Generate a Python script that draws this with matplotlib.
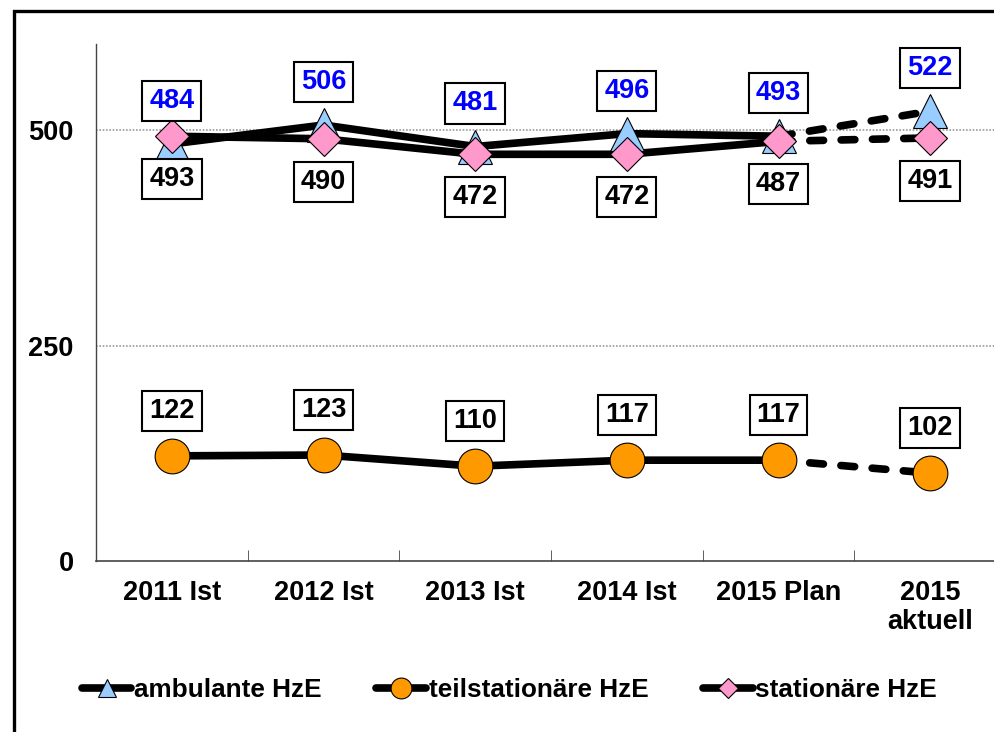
import numpy as np
import matplotlib
matplotlib.use('Agg')
import matplotlib.pyplot as plt
from matplotlib.lines import Line2D
from matplotlib.patches import Rectangle

plt.rcParams['font.family'] = ['Liberation Sans', 'DejaVu Sans']
plt.rcParams['font.weight'] = 'bold'

categories = ['2011 Ist', '2012 Ist', '2013 Ist', '2014 Ist', '2015 Plan', '2015\naktuell']
ambulante = [484, 506, 481, 496, 493, 522]
teilstationaer = [122, 123, 110, 117, 117, 102]
stationaer = [493, 490, 472, 472, 487, 491]
series_names = ['ambulante HzE', 'teilstationäre HzE', 'stationäre HzE']

fig = plt.figure(figsize=(9.95, 7.32), dpi=100)
ax = fig.add_axes([96/995, 1-561/732, 910/995, (561-44)/732])

x = np.arange(len(categories))
lw = 5.5

def draw_series(vals, marker, color, ms, z):
    ax.plot(x[:5], vals[:5], color='black', lw=lw, solid_capstyle='round', zorder=z)
    ax.plot(x[4:], vals[4:], color='black', lw=lw, ls=(0, (1.8, 2.3)),
            dash_capstyle='round', zorder=z)
    ax.plot(x, vals, ls='none', marker=marker, ms=ms, mfc=color, mec='black',
            mew=0.8, zorder=z + 5)

draw_series(teilstationaer, 'o', '#FF9900', 25, 3)
draw_series(ambulante, '^', '#99CCFF', 24, 3)
draw_series(stationaer, 'D', '#FF99CC', 17.5, 4)

box = dict(boxstyle='square,pad=0.26', fc='white', ec='black', lw=1.5)
fs = 19.5
for i in x:
    ax.annotate(str(ambulante[i]), (i, ambulante[i]), xytext=(0, 31),
                textcoords='offset points', ha='center', va='center',
                fontsize=fs, fontweight='bold', color='#0000FF', bbox=box, zorder=20)
    ax.annotate(str(stationaer[i]), (i, stationaer[i]), xytext=(0, -31),
                textcoords='offset points', ha='center', va='center',
                fontsize=fs, fontweight='bold', color='black', bbox=box, zorder=20)
    ax.annotate(str(teilstationaer[i]), (i, teilstationaer[i]), xytext=(0, 32.5),
                textcoords='offset points', ha='center', va='center',
                fontsize=fs, fontweight='bold', color='black', bbox=box, zorder=20)

ax.set_xlim(-0.5, len(categories) - 0.5)
ax.set_ylim(0, 600)
ax.set_yticks([0, 250, 500])
ax.set_yticklabels(['0', '250', '500'], fontsize=fs, fontweight='bold')
ax.tick_params(axis='y', length=0, pad=16)
ax.set_xticks(x)
ax.set_xticklabels(categories, fontsize=fs, fontweight='bold', linespacing=1.15)
ax.tick_params(axis='x', which='major', length=0, pad=14)
ax.set_xticks(np.arange(0.5, len(categories) - 0.5), minor=True)
ax.tick_params(axis='x', which='minor', length=8, direction='in', color='#444444')
for yv in [250, 500]:
    ax.axhline(yv, color='#999999', lw=1.2, ls=(0, (1, 1)), zorder=1)
ax.spines['top'].set_visible(False)
ax.spines['right'].set_visible(False)
ax.spines['left'].set_color('#444444')
ax.spines['bottom'].set_color('#444444')
ax.spines['left'].set_linewidth(1)
ax.spines['bottom'].set_linewidth(1.2)

handles = [
    Line2D([], [], color='black', lw=lw, marker='^', ms=13, mfc='#99CCFF', mec='black', mew=0.8,
           solid_capstyle='round'),
    Line2D([], [], color='black', lw=lw, marker='o', ms=15, mfc='#FF9900', mec='black', mew=0.8,
           solid_capstyle='round'),
    Line2D([], [], color='black', lw=lw, marker='D', ms=10, mfc='#FF99CC', mec='black', mew=0.8,
           solid_capstyle='round'),
]
fig.legend(handles, series_names, loc='center', bbox_to_anchor=(0.512, 0.057), ncol=3,
           frameon=False, handlelength=1.9, handletextpad=0.1, columnspacing=2.1,
           prop={'size': 18.8, 'weight': 'bold'})

fig.patches.append(Rectangle((14/995, -0.2), 2, 1.2 - 10.5/732, transform=fig.transFigure,
                             fill=False, ec='black', lw=2.4, clip_on=False))

fig.savefig('out.png', dpi=100)
